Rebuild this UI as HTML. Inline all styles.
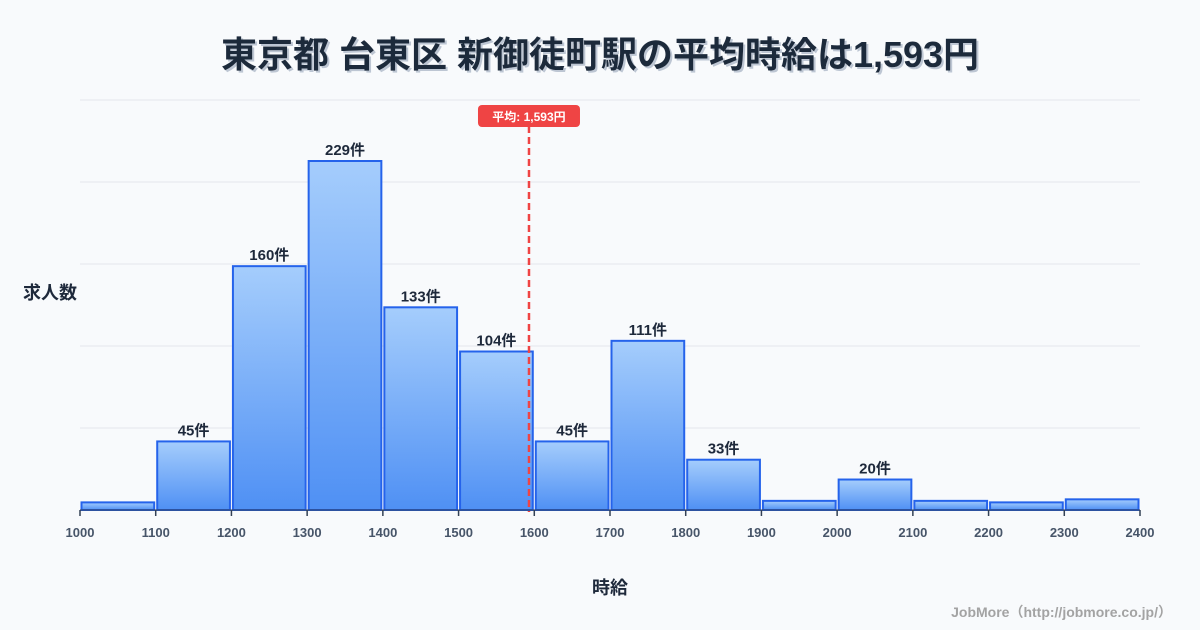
<!DOCTYPE html>
<html><head><meta charset="utf-8"><style>
body{margin:0;background:#f8fafc;}
svg{display:block;font-family:"Liberation Sans","Noto Sans CJK JP",sans-serif;}
</style></head><body>
<svg id="chart" width="1200" height="630" viewBox="0 0 1200 630">
<defs><linearGradient id="g" x1="0" y1="0" x2="0" y2="1"><stop offset="0" stop-color="#a5cdfc"/><stop offset="1" stop-color="#4f90f4"/></linearGradient>
<filter id="sh"><feDropShadow dx="2" dy="2" stdDeviation="0" flood-color="#94a3b8" flood-opacity="0.6"/></filter></defs>
<text x="600" y="67" text-anchor="middle" font-size="36" font-weight="bold" fill="#1e293b" filter="url(#sh)">東京都 台東区 新御徒町駅の平均時給は1,593円</text>
<g id="grid"></g><g id="bars"></g><g id="xaxis"></g>
<text x="50" y="299" text-anchor="middle" font-size="18" font-weight="bold" fill="#1e293b">求人数</text>
<text x="610" y="594" text-anchor="middle" font-size="18" font-weight="bold" fill="#1e293b">時給</text>
<text x="1172" y="617" text-anchor="end" font-size="14" font-weight="bold" fill="#a3a3a3">JobMore（http://jobmore.co.jp/）</text>
<g id="mean"></g>
</svg>
<script>
const binStarts=[1000,1100,1200,1300,1400,1500,1600,1700,1800,1900,2000,2100,2200,2300];
const counts=[5,45,160,229,133,104,45,111,33,6,20,6,5,7];
const labeled=[false,true,true,true,true,true,true,true,true,false,true,false,false,false];
const xTicks=[1000,1100,1200,1300,1400,1500,1600,1700,1800,1900,2000,2100,2200,2300,2400];
const meanValue=1593;const meanLabel="平均: 1,593円";
const NS="http://www.w3.org/2000/svg";
const x=v=>80+(v-1000)*(1060/1400);
const y=v=>510-v*1.524;
function mk(t,a,p){const e=document.createElementNS(NS,t);for(const k in a)e.setAttribute(k,a[k]);p.appendChild(e);return e;}
const grid=document.getElementById('grid');
for(let i=0;i<=5;i++){const gy=510-i*82;const l=mk('line',{x1:80,x2:1140,y1:gy,y2:gy,stroke:'#e5e7eb','stroke-width':1},grid);

}
const bars=document.getElementById('bars');
binStarts.forEach((b,i)=>{const x0=x(b)+1.5,x1=x(b+100)-1.5;
const r=mk('rect',{x:x0,y:y(counts[i]),width:x1-x0,height:510-y(counts[i]),fill:'url(#g)',stroke:'#2563eb','stroke-width':2},bars);


if(labeled[i]){const t=mk('text',{x:(x0+x1)/2,y:y(counts[i])-6,'text-anchor':'middle','font-size':15,'font-weight':'bold',fill:'#1e293b'},bars);t.textContent=counts[i]+'件';

}});
const xa=document.getElementById('xaxis');
const al=mk('line',{x1:80,x2:1140,y1:510,y2:510,stroke:'#334155','stroke-width':1},xa);


xTicks.forEach(v=>{const tk=mk('line',{x1:x(v),x2:x(v),y1:510,y2:516,stroke:'#334155','stroke-width':1.5},xa);


const t=mk('text',{x:x(v),y:537,'text-anchor':'middle','font-size':13,'font-weight':'bold',fill:'#475569'},xa);t.textContent=v;

});
const m=document.getElementById('mean');const mx=x(meanValue);
const ml=mk('line',{x1:mx,x2:mx,y1:126,y2:512,stroke:'#ef4444','stroke-width':2.5,'stroke-dasharray':'7,4'},m);


const mb=mk('rect',{x:mx-51,y:105,width:102,height:22,rx:4,fill:'#ef4444'},m);


const mt=mk('text',{x:mx,y:121,'text-anchor':'middle','font-size':12,'font-weight':'bold',fill:'#fff'},m);mt.textContent=meanLabel;


</script>
</body></html>
